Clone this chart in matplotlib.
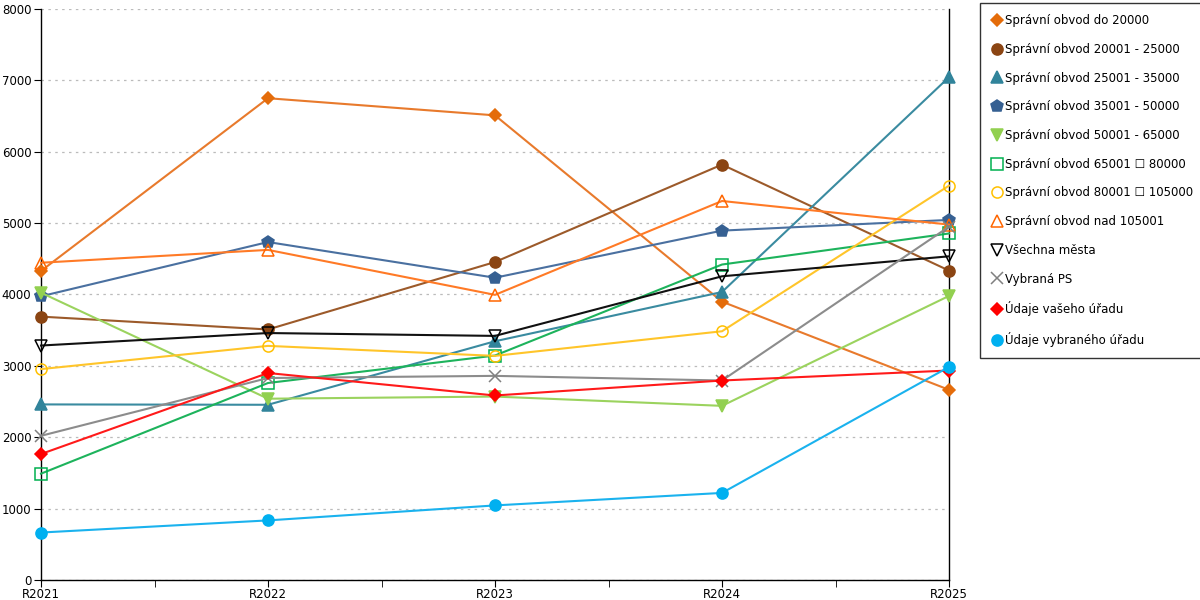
import matplotlib

matplotlib.use("Agg")
import matplotlib.pyplot as plt
import numpy as np

years = ["R2021", "R2022", "R2023", "R2024", "R2025"]

series_names = [
    "Správní obvod do 20000",
    "Správní obvod 20001 - 25000",
    "Správní obvod 25001 - 35000",
    "Správní obvod 35001 - 50000",
    "Správní obvod 50001 - 65000",
    "Správní obvod 65001 \u2610 80000",
    "Správní obvod 80001 \u2610 105000",
    "Správní obvod nad 105001",
    "Všechna města",
    "Vybraná PS",
    "Údaje vašeho úřadu",
    "Údaje vybraného úřadu",
]

do_20000 = [4330, 6750, 6510, 3900, 2665]
obvod_20001_25000 = [3690, 3510, 4455, 5820, 4335]
obvod_25001_35000 = [2460, 2455, 3345, 4035, 7045]
obvod_35001_50000 = [3975, 4735, 4235, 4895, 5045]
obvod_50001_65000 = [4025, 2540, 2570, 2440, 3980]
obvod_65001_80000 = [1490, 2760, 3145, 4420, 4855]
obvod_80001_105000 = [2955, 3280, 3140, 3485, 5525]
nad_105001 = [4445, 4625, 3995, 5310, 4980]
vsechna_mesta = [3285, 3460, 3420, 4255, 4535]
vybrana_ps = [2020, 2830, 2860, 2795, 4950]
udaje_vaseho = [1765, 2900, 2585, 2795, 2935]
udaje_vybraneho = [665, 835, 1045, 1220, 2985]

values = [
    do_20000, obvod_20001_25000, obvod_25001_35000, obvod_35001_50000,
    obvod_50001_65000, obvod_65001_80000, obvod_80001_105000, nad_105001,
    vsechna_mesta, vybrana_ps, udaje_vaseho, udaje_vybraneho,
]

# (line colour, marker, marker face, marker edge, marker size)
styles = [
    ("#E87A2C", "D", "#E46C0A", "#E46C0A", 6),
    ("#9C5A2A", "o", "#8B4513", "#8B4513", 8),
    ("#3A8BA0", "^", "#31849B", "#31849B", 8),
    ("#4A70A0", "p", "#366092", "#366092", 9),
    ("#9BD35E", "v", "#92D050", "#92D050", 8),
    ("#1DB35C", "s", "none", "#00B050", 9),
    ("#FFC52A", "o", "none", "#FFC000", 8),
    ("#FF7A26", "^", "none", "#FF6600", 9),
    ("#111111", "v", "none", "#000000", 9),
    ("#8C8C8C", "x", "none", "#808080", 9),
    ("#FF1A1A", "D", "#FF0000", "#FF0000", 6),
    ("#1AB2EE", "o", "#00B0F0", "#00B0F0", 8),
]

fig = plt.figure(figsize=(12, 6), dpi=100)
ax = fig.add_axes([41 / 1200, 20 / 600, 908 / 1200, 571 / 600])

x = np.arange(len(years))
for name, vals, (lc, mk, mf, me, ms) in zip(series_names, values, styles):
    ax.plot(
        x, vals, color=lc, linewidth=1.5, marker=mk, markersize=ms,
        markerfacecolor=mf, markeredgecolor=me, markeredgewidth=1.1,
        label=name, zorder=3, clip_on=False,
    )

ax.set_xlim(0, len(years) - 1)
ax.set_ylim(0, 8000)
ax.set_yticks(np.arange(0, 8001, 1000))
ax.set_xticks(x)
ax.set_xticklabels(years)
ax.set_xticks(np.arange(0.5, len(years) - 1, 1.0), minor=True)
ax.tick_params(axis="x", which="both", length=5, direction="out", labelsize=8.5, pad=1)
ax.tick_params(axis="y", length=5, direction="out", labelsize=8.5, pad=2)
ax.yaxis.grid(True, linestyle=(0, (2, 3.5)), color="#BBBBBB", linewidth=0.9)
ax.set_axisbelow(True)
ax.spines["top"].set_visible(False)
for side in ("left", "right", "bottom"):
    ax.spines[side].set_color("black")
    ax.spines[side].set_linewidth(1.0)

leg = fig.legend(
    loc="upper left", bbox_to_anchor=(980 / 1200, 1 - 3 / 600),
    fontsize=8.5, frameon=True, fancybox=False, edgecolor="black",
    labelspacing=1.33, handlelength=0.9, handletextpad=0.3,
    borderpad=0.95, borderaxespad=0,
)
leg.get_frame().set_linewidth(1.0)
for line in leg.get_lines():
    line.set_linestyle("none")

fig.savefig("out.png", dpi=100)
